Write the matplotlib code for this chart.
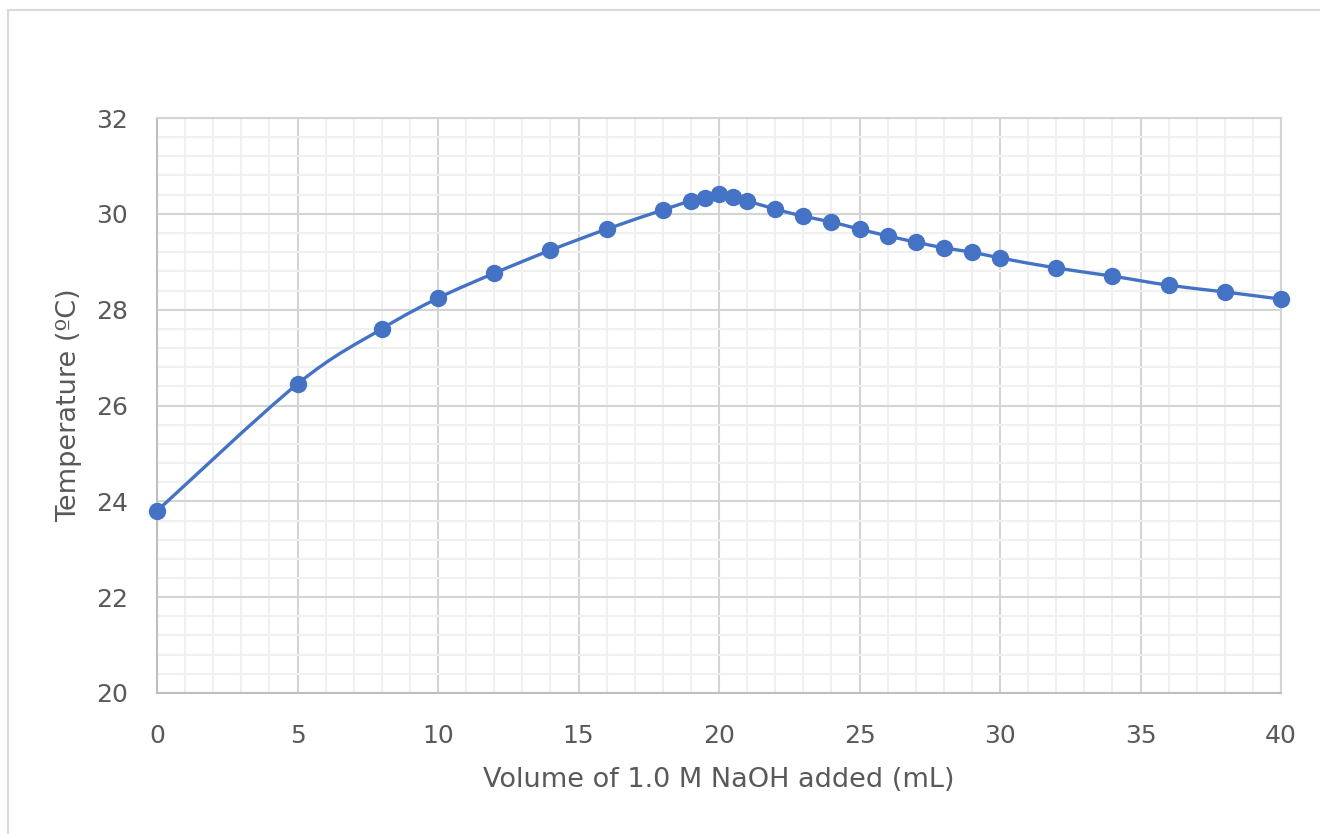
import matplotlib
matplotlib.use("Agg")
import matplotlib.pyplot as plt
from matplotlib.path import Path
from matplotlib.patches import PathPatch, Rectangle
from matplotlib.ticker import MultipleLocator

volume = [0, 5, 8, 10, 12, 14, 16, 18, 19, 19.5, 20, 20.5, 21, 22, 23, 24, 25,
          26, 27, 28, 29, 30, 32, 34, 36, 38, 40]
temp = [23.8, 26.45, 27.6, 28.24, 28.76, 29.24, 29.68, 30.08, 30.27, 30.33,
        30.41, 30.35, 30.27, 30.1, 29.95, 29.83, 29.68, 29.54, 29.41, 29.29,
        29.2, 29.08, 28.87, 28.7, 28.51, 28.37, 28.22]

blue = "#4472C4"
label_col = "#595959"

fig = plt.figure(figsize=(13.2, 8.34), dpi=100)
# chart frame (cropped screenshot of a spreadsheet chart)
fig.patches.append(Rectangle((8 / 1320, -0.1), 1.2, 1 - 10 / 834 + 0.1,
                             transform=fig.transFigure, fill=False,
                             edgecolor="#d9d9d9", linewidth=1.5))
ax = fig.add_axes([157 / 1320, 1 - 693 / 834, 1124 / 1320, 575 / 834])

ax.set_xlim(0, 40)
ax.set_ylim(20, 32)
ax.xaxis.set_major_locator(MultipleLocator(5))
ax.xaxis.set_minor_locator(MultipleLocator(1))
ax.yaxis.set_major_locator(MultipleLocator(2))
ax.yaxis.set_minor_locator(MultipleLocator(0.4))
ax.grid(which="minor", color="#f0f0f0", linewidth=1.5)
ax.grid(which="major", color="#d4d4d4", linewidth=1.5)
ax.set_axisbelow(True)
for s in ax.spines.values():
    s.set_color("#d4d4d4")
    s.set_linewidth(1.5)
ax.spines["bottom"].set_color("#bfbfbf")
ax.spines["left"].set_color("#bfbfbf")
ax.tick_params(which="both", length=0)
ax.tick_params(axis="x", pad=22, labelsize=18, labelcolor=label_col)
ax.tick_params(axis="y", pad=21, labelsize=18, labelcolor=label_col)

# smoothed line (Catmull-Rom style Bezier through the points, like Excel)
verts = [(volume[0], temp[0])]
codes = [Path.MOVETO]
n = len(volume)
t = 1 / 6
for i in range(n - 1):
    x0, y0 = (volume[i - 1], temp[i - 1]) if i > 0 else (volume[i], temp[i])
    x1, y1 = volume[i], temp[i]
    x2, y2 = volume[i + 1], temp[i + 1]
    x3, y3 = (volume[i + 2], temp[i + 2]) if i + 2 < n else (x2, y2)
    verts += [(x1 + (x2 - x0) * t, y1 + (y2 - y0) * t),
              (x2 - (x3 - x1) * t, y2 - (y3 - y1) * t),
              (x2, y2)]
    codes += [Path.CURVE4] * 3
ax.add_patch(PathPatch(Path(verts, codes), facecolor="none", edgecolor=blue,
                       linewidth=2.4, capstyle="round", zorder=3))
ax.plot(volume, temp, "o", color=blue, markersize=11.5, zorder=4, clip_on=False)

ax.set_xlabel("Volume of 1.0 M NaOH added (mL)", fontsize=19.5, color=label_col,
              labelpad=14)
ax.set_ylabel("Temperature (ºC)", fontsize=19.5, color=label_col, labelpad=10)

fig.savefig("out.png", dpi=100)
